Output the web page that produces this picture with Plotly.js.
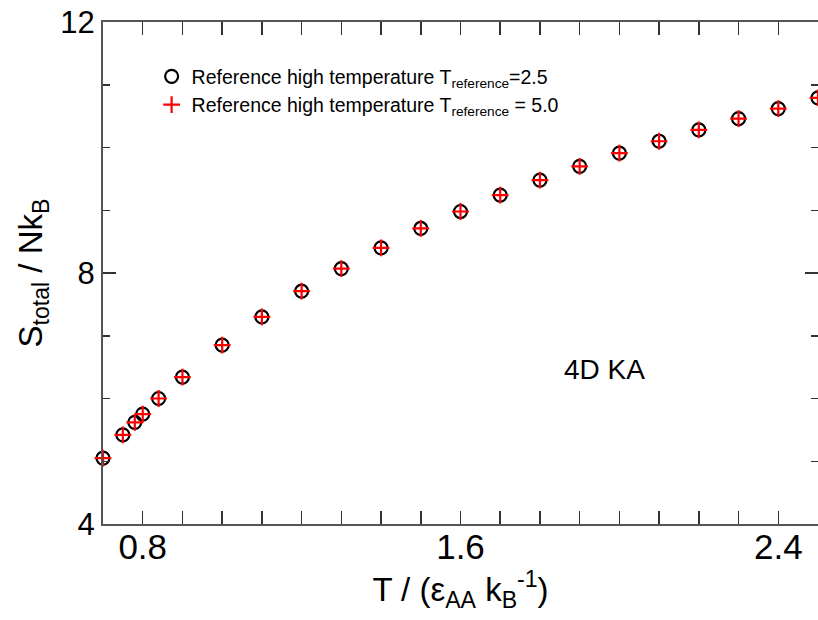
<!DOCTYPE html>
<html>
<head>
<meta charset="utf-8">
<script src="https://cdn.plot.ly/plotly-3.0.1.min.js"></script>
<style>html,body{margin:0;padding:0;background:#fff;}#chart{width:818px;height:620px;}</style>
</head>
<body>
<div id="chart"></div>
<script>
// Temperatures T / (eps_AA k_B^-1)
var temperature = [0.70, 0.75, 0.78, 0.80, 0.84, 0.90, 1.0, 1.1, 1.2, 1.3, 1.4, 1.5, 1.6, 1.7, 1.8, 1.9, 2.0, 2.1, 2.2, 2.3, 2.4, 2.5];
// S_total / N k_B, reference high temperature 2.5
var sTotalRef25 = [5.05, 5.42, 5.62, 5.75, 6.00, 6.34, 6.85, 7.30, 7.71, 8.07, 8.40, 8.71, 8.98, 9.24, 9.48, 9.70, 9.91, 10.10, 10.28, 10.46, 10.62, 10.79];
// S_total / N k_B, reference high temperature 5.0
var sTotalRef50 = [5.05, 5.42, 5.62, 5.75, 6.00, 6.34, 6.85, 7.30, 7.71, 8.07, 8.40, 8.71, 8.98, 9.24, 9.48, 9.70, 9.91, 10.10, 10.28, 10.46, 10.62, 10.79];

var seriesNames = [
  'Reference high temperature T<sub>reference</sub>=2.5',
  'Reference high temperature T<sub>reference</sub> = 5.0'
];
var xTickVals = [0.8, 1.6, 2.4];
var xTickText = ['0.8', '1.6', '2.4'];
var yTickVals = [4, 8, 12];
var yTickText = ['4', '8', '12'];

var FONT = 'Liberation Sans, Arial, Helvetica, sans-serif';

var traces = [
  {
    x: temperature, y: sTotalRef25, name: seriesNames[0],
    type: 'scatter', mode: 'markers', cliponaxis: false,
    marker: {symbol: 'circle-open', size: 13, color: '#000', line: {color: '#000', width: 2.2}}
  },
  {
    x: temperature, y: sTotalRef50, name: seriesNames[1],
    type: 'scatter', mode: 'markers', cliponaxis: false,
    marker: {symbol: 'cross-thin-open', size: 12, color: '#ff0000', line: {color: '#ff0000', width: 2.2}}
  }
];

var axisCommon = {
  showgrid: false, zeroline: false,
  ticks: 'inside', ticklen: 13, tickwidth: 1.5, tickcolor: '#333',
  linecolor: '#555', linewidth: 2
};

var layout = {
  width: 818, height: 620,
  margin: {l: 103, r: 0, t: 22, b: 96, pad: 0},
  paper_bgcolor: '#fff', plot_bgcolor: '#fff',
  font: {family: FONT, color: '#000'},
  showlegend: true,
  legend: {
    x: 0.068, y: 0.93, xanchor: 'left', yanchor: 'top',
    bgcolor: 'rgba(0,0,0,0)', font: {family: FONT, size: 19.5, color: '#000'},
    tracegroupgap: 0
  },
  xaxis: Object.assign({}, axisCommon, {
    range: [0.7, 2.5],
    tickvals: xTickVals, ticktext: xTickText,
    showline: true, mirror: 'allticks',
    tickfont: {family: FONT, size: 35, color: '#000'},
    ticklabelstandoff: -9,
    minor: {dtick: 0.1, tick0: 0, ticks: 'inside', ticklen: 7, tickwidth: 1.5, tickcolor: '#333', showgrid: false},
    title: {text: 'T / (ε<sub>AA</sub> k<sub>B</sub><sup>-1</sup>)', font: {family: FONT, size: 33, color: '#000'}, standoff: 10},
    automargin: false
  }),
  yaxis: Object.assign({}, axisCommon, {
    range: [4, 12],
    tickvals: yTickVals, ticktext: yTickText,
    showline: true, mirror: false,
    tickfont: {family: FONT, size: 31, color: '#000'},
    minor: {dtick: 1, tick0: 0, ticks: 'inside', ticklen: 7, tickwidth: 1.5, tickcolor: '#333', showgrid: false},
    title: {text: 'S<sub>total</sub> / Nk<sub>B</sub>', font: {family: FONT, size: 33, color: '#000'}, standoff: 8},
    automargin: false
  }),
  yaxis2: Object.assign({}, axisCommon, {
    overlaying: 'y', side: 'right', range: [4, 12],
    tickvals: yTickVals, showticklabels: false, showline: false,
    minor: {dtick: 1, tick0: 0, ticks: 'inside', ticklen: 7, tickwidth: 1.5, tickcolor: '#333', showgrid: false},
    automargin: false
  }),
  annotations: [
    {text: '4D KA', xref: 'paper', yref: 'paper', x: 0.7007, y: 0.307,
     xanchor: 'center', yanchor: 'middle', showarrow: false,
     font: {family: FONT, size: 28, color: '#000'}}
  ]
};

// invisible helper trace to activate the right-side tick axis
traces.push({x: [temperature[0]], y: [sTotalRef25[0]], yaxis: 'y2', type: 'scatter', mode: 'markers',
  marker: {opacity: 0}, showlegend: false, hoverinfo: 'skip'});

Plotly.newPlot('chart', traces, layout, {displayModeBar: false, staticPlot: true});
</script>
</body>
</html>
